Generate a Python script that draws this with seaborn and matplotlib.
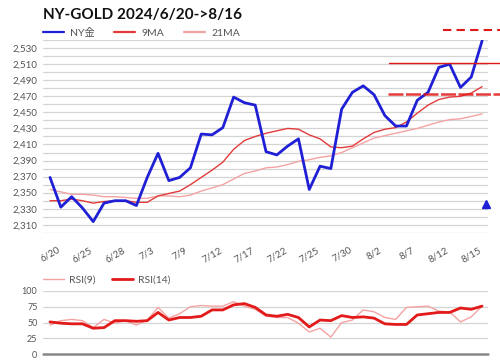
import numpy as np
import pandas as pd
import matplotlib
matplotlib.use('Agg')
import matplotlib.pyplot as plt
import seaborn as sns

# data
dates = ['6/20', '6/21', '6/24', '6/25', '6/26', '6/27', '6/28', '7/1', '7/2', '7/3',
         '7/5', '7/8', '7/9', '7/10', '7/11', '7/12', '7/15', '7/16', '7/17', '7/18',
         '7/19', '7/22', '7/23', '7/24', '7/25', '7/26', '7/29', '7/30', '7/31', '8/1',
         '8/2', '8/5', '8/6', '8/7', '8/8', '8/9', '8/12', '8/13', '8/14', '8/15', '8/16']
ny_gold = [2369, 2332, 2345, 2331, 2314, 2337, 2340, 2340, 2334, 2369,
           2399, 2365, 2369, 2381, 2423, 2422, 2431, 2469, 2462, 2459,
           2401, 2397, 2408, 2417, 2354, 2383, 2380, 2454, 2475, 2483,
           2472, 2446, 2433, 2433, 2465, 2475, 2506, 2510, 2481, 2494, 2539]
ma9 = [2340, 2340, 2342, 2340, 2337, 2339, 2340, 2340, 2338, 2338,
       2346, 2349, 2352, 2360, 2369, 2378, 2388, 2404, 2415, 2420,
       2424, 2427, 2430, 2429, 2422, 2417, 2407, 2406, 2408, 2417,
       2425, 2429, 2431, 2438, 2449, 2459, 2466, 2469, 2470, 2474, 2482]
ma21 = [2354, 2351, 2348, 2348, 2347, 2345, 2345, 2344, 2343, 2343,
        2346, 2346, 2345, 2347, 2352, 2356, 2360, 2367, 2374, 2377,
        2381, 2382, 2385, 2389, 2391, 2394, 2396, 2400, 2406, 2412,
        2418, 2421, 2424, 2427, 2430, 2434, 2438, 2441, 2442, 2445, 2448]
rsi9 = [46, 53, 55, 53, 42, 55, 49, 53, 46, 54,
        74, 57, 64, 75, 77, 76, 76, 83, 76, 71,
        60, 58, 58, 49, 35, 41, 27, 50, 54, 70,
        67, 58, 55, 74, 75, 76, 68, 67, 51, 59, 76]
rsi14 = [51, 49, 48, 48, 41, 42, 53, 53, 52, 53,
         66, 54, 58, 58, 60, 70, 70, 78, 80, 74,
         62, 60, 63, 58, 43, 54, 53, 61, 58, 59,
         57, 48, 47, 47, 62, 64, 66, 66, 73, 71, 76]
levels_solid = [2512, 2473]
level_dash = 2552
marker_val = 2336

df = pd.DataFrame({'i': np.arange(len(dates)), 'date': dates, 'NY金': ny_gold,
                   '9MA': ma9, '21MA': ma21, 'RSI(9)': rsi9, 'RSI(14)': rsi14})

sns.set_style('white')
plt.rcParams['font.family'] = ['Lato', 'Noto Sans CJK JP', 'DejaVu Sans']

fig = plt.figure(figsize=(5, 3.61), dpi=100)
ax = fig.add_axes([0.086, 0.355, 0.89, 0.534])
ax2 = fig.add_axes([0.086, 0.019, 0.89, 0.175])

blue = '#1f1fd6'
red = '#e33b3b'
pink = '#f4a3a3'
gray = '#555555'

sns.lineplot(data=df, x='i', y='21MA', ax=ax, color=pink, lw=1.0, label='21MA')
sns.lineplot(data=df, x='i', y='9MA', ax=ax, color=red, lw=1.0, label='9MA')
sns.lineplot(data=df, x='i', y='NY金', ax=ax, color=blue, lw=2.0, label='NY金')

n = len(dates)
ax.set_xlim(-0.65, 40.55)
ax.set_ylim(2300, 2540)
ax.set_yticks(np.arange(2310, 2540, 20))
ax.set_yticklabels([f'{v:,}' for v in range(2310, 2540, 20)], color=gray, fontsize=7)
for v in range(2300, 2545, 10):
    ax.axhline(v, color='#d4d4d4', lw=0.9, zorder=0)

# resistance / support levels extend past the plot area
ax.plot([31.4, 41.7], [levels_solid[0]] * 2, color='#e01818', lw=1.0, clip_on=False)
ax.plot([31.3, 41.7], [levels_solid[1]] * 2, color='#e01818', lw=1.8,
        ls=(0, (6, 1)), clip_on=False, alpha=0.85)
ax.plot([36.4, 41.7], [level_dash] * 2, color='#e01818', lw=1.5,
        ls=(0, (4, 2.5)), clip_on=False)
ax.plot([40.4], [marker_val], marker='^', color=blue, ms=6, clip_on=False)

ticks = list(range(0, n - 1, 3))
ax.set_xticks(ticks)
ax.set_xticklabels([dates[t] for t in ticks], rotation=30, fontsize=7, color=gray)
ax.tick_params(axis='both', length=0, pad=4)
ax.tick_params(axis='x', pad=9)
ax.set_xlabel('')
ax.set_ylabel('')
sns.despine(ax=ax, left=True, bottom=True)

handles, labels = ax.get_legend_handles_labels()
order = [2, 1, 0]
leg = ax.legend([handles[k] for k in order], [labels[k] for k in order],
                loc='lower left', bbox_to_anchor=(-0.01, 0.99), ncol=3, frameon=False,
                fontsize=7.5, handlelength=2.0, handletextpad=0.6,
                columnspacing=1.9, borderaxespad=0)
for t in leg.get_texts():
    t.set_color(gray)
for h in leg.get_lines():
    h.set_linewidth(1.6)

fig.text(0.086, 0.958, 'NY-GOLD 2024/6/20->8/16', fontsize=11, fontweight='bold',
         color='#111111', va='center')

# RSI panel
sns.lineplot(data=df, x='i', y='RSI(9)', ax=ax2, color=pink, lw=1.0, label='RSI(9)')
sns.lineplot(data=df, x='i', y='RSI(14)', ax=ax2, color='#e21a1a', lw=2.0, label='RSI(14)')
ax2.set_xlim(-0.65, 40.55)
ax2.set_ylim(0, 100)
ax2.set_yticks([0, 25, 50, 75, 100])
ax2.set_yticklabels(['0', '25', '50', '75', '100'], fontsize=6.5, color=gray)
for v in [25, 50, 75, 100]:
    ax2.axhline(v, color='#d4d4d4', lw=0.9, zorder=0)
ax2.axhline(0, color='#888888', lw=1.8, zorder=0, clip_on=False)
ax2.set_xticks([])
ax2.tick_params(axis='y', length=0, pad=4)
ax2.set_xlabel('')
ax2.set_ylabel('')
sns.despine(ax=ax2, left=True, bottom=True)
leg2 = ax2.legend(loc='lower left', bbox_to_anchor=(-0.01, 1.03), ncol=2, frameon=False,
                  fontsize=7.5, handlelength=2.0, handletextpad=0.5,
                  columnspacing=1.6, borderaxespad=0)
for t in leg2.get_texts():
    t.set_color(gray)

fig.savefig('out.png', dpi=100)
